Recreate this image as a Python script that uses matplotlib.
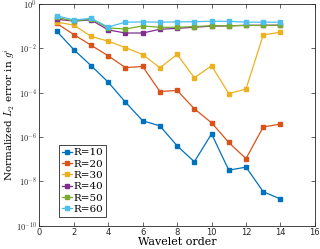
import numpy as np
import matplotlib
matplotlib.use("Agg")
import matplotlib.pyplot as plt
from matplotlib.ticker import FixedLocator, FuncFormatter

order = list(range(1, 15))

# log10 of the normalized error
r10 = [-1.22, -2.06, -2.78, -3.53, -4.43, -5.27, -5.5, -6.4, -7.12, -5.86, -7.5, -7.36, -8.47, -8.8]
r20 = [-0.87, -1.38, -1.86, -2.34, -2.87, -2.82, -3.95, -3.9, -4.73, -5.36, -6.25, -6.98, -5.55, -5.42]
r30 = [-0.82, -0.95, -1.46, -1.68, -1.97, -2.28, -2.88, -2.27, -3.33, -2.79, -4.04, -3.84, -1.40, -1.27]
r40 = [-0.69, -0.77, -0.72, -1.17, -1.31, -1.31, -1.14, -1.10, -1.05, -1.0, -0.99, -0.96, -0.96, -0.96]
r50 = [-0.6, -0.77, -0.68, -1.08, -1.13, -0.99, -1.05, -1.05, -1.02, -0.98, -0.98, -0.97, -0.97, -0.95]
r60 = [-0.53, -0.72, -0.65, -1.04, -0.82, -0.81, -0.82, -0.81, -0.8, -0.78, -0.78, -0.82, -0.82, -0.82]

series = [r10, r20, r30, r40, r50, r60]
labels = ["R=10", "R=20", "R=30", "R=40", "R=50", "R=60"]
colors = ["#0072BD", "#D95319", "#EDB120", "#7E2F8E", "#77AC30", "#4DBEEE"]

plt.rcParams['mathtext.fontset'] = 'cm'

fig = plt.figure(figsize=(3.2, 2.49), dpi=100)
ax = fig.add_axes([0.123, 0.094, 0.861, 0.89])

for s, lab, c in zip(series, labels, colors):
    ax.semilogy(order, 10.0 ** np.array(s), '-s', color=c, lw=0.9, ms=2.2,
                mfc=c, mec=c, label=lab)

ax.set_xlim(0, 16)
ax.set_ylim(1e-10, 1)
ax.set_xticks(range(0, 17, 2))
ax.yaxis.set_major_locator(FixedLocator([1e-10, 1e-8, 1e-6, 1e-4, 1e-2, 1]))
ax.yaxis.set_minor_locator(FixedLocator([]))
ax.yaxis.set_major_formatter(FuncFormatter(
    lambda v, p: r"$\mathsf{10^{%d}}$" % int(round(np.log10(v)))))
ax.tick_params(direction='in', top=True, right=True, labelsize=6,
               length=3, width=0.5, colors='#262626', pad=2)
for sp in ax.spines.values():
    sp.set_linewidth(0.6)
    sp.set_color('#262626')

ax.set_xlabel("Wavelet order", family='serif', fontsize=8, labelpad=0)
ax.set_ylabel(r"Normalized $L_2$ error in $g^i$", family='serif', fontsize=7.5)
ax.yaxis.set_label_coords(-0.08, 0.5)

leg = ax.legend(loc='lower left', bbox_to_anchor=(0.072, 0.04), borderaxespad=0,
                prop={'family': 'serif', 'size': 7.5}, fancybox=False,
                handlelength=1.0, handletextpad=0.15, labelspacing=0.2,
                borderpad=0.25, framealpha=1)
leg.get_frame().set_linewidth(0.6)
leg.get_frame().set_edgecolor('#262626')

fig.savefig("out.png", dpi=100)
